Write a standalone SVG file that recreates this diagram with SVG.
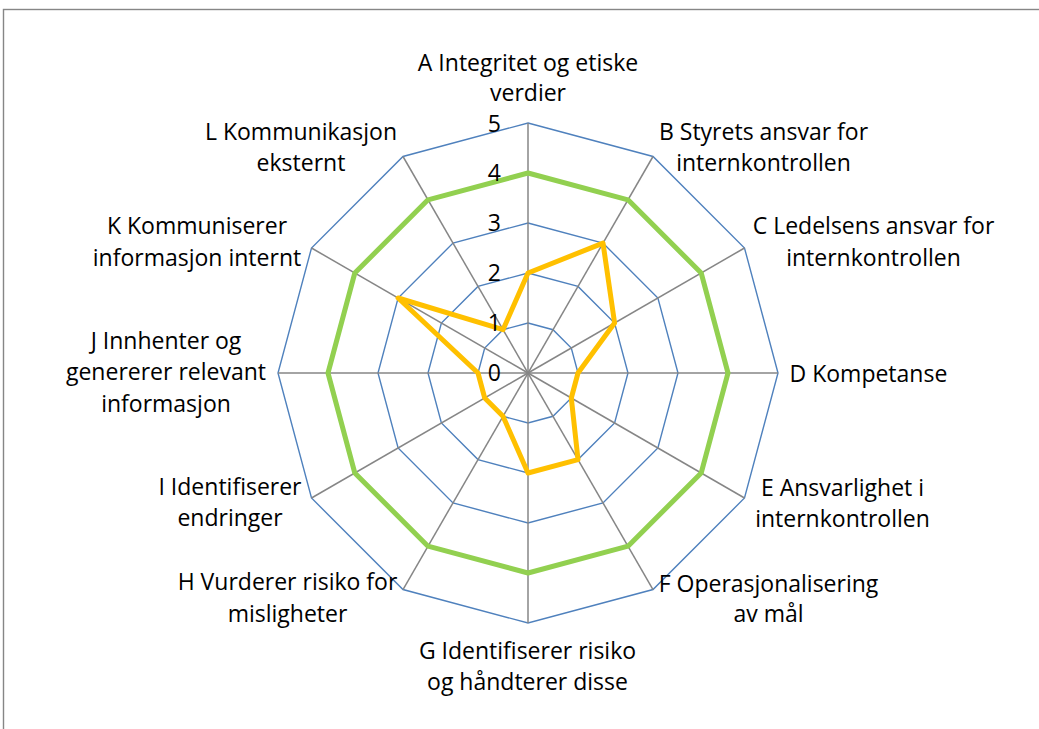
<svg xmlns="http://www.w3.org/2000/svg" width="1039" height="729" viewBox="0 0 1039 729">
<style>
text{font-family:"Open Sans","Liberation Sans",sans-serif;font-size:23px;fill:#000}
.c{text-anchor:middle}
.e{text-anchor:end}
.grid{fill:none;stroke:#4F81BD;stroke-width:1.4}
.spoke{stroke:#868686;stroke-width:1.5}
.s1{fill:none;stroke:#92D050;stroke-width:5;stroke-linejoin:round}
.s2{fill:none;stroke:#FFC000;stroke-width:5;stroke-linejoin:round}
</style>
<rect x="0" y="0" width="1039" height="729" fill="#fff"/>
<rect x="3.5" y="9.5" width="1100" height="800" fill="none" stroke="#868686" stroke-width="1.4"/>
<g id="gridlines">
<polygon class="grid" points="528,323 553,329.7 571.3,348 578,373 571.3,398 553,416.3 528,423 503,416.3 484.7,398 478,373 484.7,348 503,329.7"/>
<polygon class="grid" points="528,273 578,286.4 614.6,323 628,373 614.6,423 578,459.6 528,473 478,459.6 441.4,423 428,373 441.4,323 478,286.4"/>
<polygon class="grid" points="528,223 603,243.1 657.9,298 678,373 657.9,448 603,502.9 528,523 453,502.9 398.1,448 378,373 398.1,298 453,243.1"/>
<polygon class="grid" points="528,173 628,199.8 701.2,273 728,373 701.2,473 628,546.2 528,573 428,546.2 354.8,473 328,373 354.8,273 428,199.8"/>
<polygon class="grid" points="528,123 653,156.5 744.5,248 778,373 744.5,498 653,589.5 528,623 403,589.5 311.5,498 278,373 311.5,248 403,156.5"/>
</g>
<g id="connectors">
<line class="spoke" x1="528" y1="373" x2="528" y2="123"/>
<line class="spoke" x1="528" y1="373" x2="653" y2="156.5"/>
<line class="spoke" x1="528" y1="373" x2="744.5" y2="248"/>
<line class="spoke" x1="528" y1="373" x2="778" y2="373"/>
<line class="spoke" x1="528" y1="373" x2="744.5" y2="498"/>
<line class="spoke" x1="528" y1="373" x2="653" y2="589.5"/>
<line class="spoke" x1="528" y1="373" x2="528" y2="623"/>
<line class="spoke" x1="528" y1="373" x2="403" y2="589.5"/>
<line class="spoke" x1="528" y1="373" x2="311.5" y2="498"/>
<line class="spoke" x1="528" y1="373" x2="278" y2="373"/>
<line class="spoke" x1="528" y1="373" x2="311.5" y2="248"/>
<line class="spoke" x1="528" y1="373" x2="403" y2="156.5"/>
</g>
<g id="series">
<polygon class="s1" points="528,173 628,199.8 701.2,273 728,373 701.2,473 628,546.2 528,573 428,546.2 354.8,473 328,373 354.8,273 428,199.8"/>
<polygon class="s2" points="528,273 603,243.1 614.6,323 578,373 571.3,398 578,459.6 528,473 503,416.3 484.7,398 478,373 398.1,298 503,329.7"/>
</g>
<g id="scale">
<text class="e" x="501" y="381">0</text>
<text class="e" x="501" y="331">1</text>
<text class="e" x="501" y="281">2</text>
<text class="e" x="501" y="231">3</text>
<text class="e" x="501" y="181">4</text>
<text class="e" x="501" y="132">5</text>
</g>
<g id="A"><text class="c" x="528" y="71">A Integritet og etiske</text><text class="c" x="528" y="101">verdier</text></g>
<g id="B"><text class="c" x="763.5" y="139.5">B Styrets ansvar for</text><text class="c" x="763.5" y="171">internkontrollen</text></g>
<g id="C"><text class="c" x="873.5" y="234">C Ledelsens ansvar for</text><text class="c" x="873.5" y="266">internkontrollen</text></g>
<g id="D"><text x="789.5" y="381.5">D Kompetanse</text></g>
<g id="E"><text class="c" x="842.5" y="496">E Ansvarlighet i</text><text class="c" x="842.5" y="527">internkontrollen</text></g>
<g id="F"><text class="c" x="768.5" y="591.5">F Operasjonalisering</text><text class="c" x="768.5" y="622">av mål</text></g>
<g id="G"><text class="c" x="527.5" y="659">G Identifiserer risiko</text><text class="c" x="527.5" y="690">og håndterer disse</text></g>
<g id="H"><text class="c" x="287.5" y="590">H Vurderer risiko for</text><text class="c" x="287.5" y="621.5">misligheter</text></g>
<g id="I"><text class="c" x="230" y="495">I Identifiserer</text><text class="c" x="230" y="526">endringer</text></g>
<g id="J"><text class="c" x="166" y="348.5">J Innhenter og</text><text class="c" x="166" y="380">genererer relevant</text><text class="c" x="166" y="411.5">informasjon</text></g>
<g id="K"><text class="c" x="197" y="234">K Kommuniserer</text><text class="c" x="197" y="266">informasjon internt</text></g>
<g id="L"><text class="c" x="301" y="139.5">L Kommunikasjon</text><text class="c" x="301" y="171">eksternt</text></g>
</svg>
